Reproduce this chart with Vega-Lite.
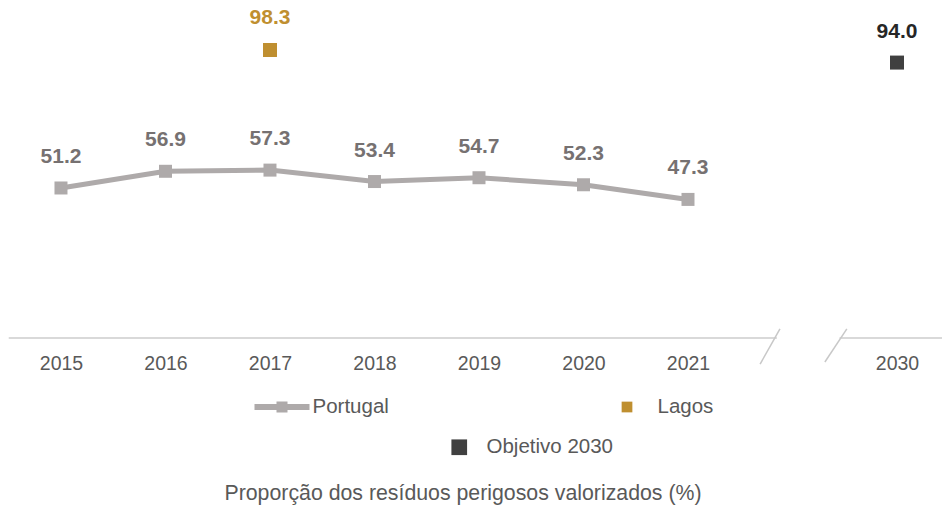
{
  "$schema": "https://vega.github.io/schema/vega-lite/v6.json",
  "autosize": {"type": "none"},
  "width": 933,
  "height": 293,
  "padding": {"left": 9, "top": 45, "right": 0, "bottom": 170},
  "background": "white",
  "config": {
    "view": {"stroke": null},
    "font": "Liberation Sans",
    "text": {"font": "Liberation Sans"}
  },
  "datasets": {
    "main": [
      {"series": "Portugal", "year": "2015", "value": 51.2},
      {"series": "Portugal", "year": "2016", "value": 56.9},
      {"series": "Portugal", "year": "2017", "value": 57.3},
      {"series": "Portugal", "year": "2018", "value": 53.4},
      {"series": "Portugal", "year": "2019", "value": 54.7},
      {"series": "Portugal", "year": "2020", "value": 52.3},
      {"series": "Portugal", "year": "2021", "value": 47.3},
      {"series": "Lagos", "year": "2017", "value": 98.3},
      {"series": "Objetivo 2030", "year": "2030", "value": 94.0}
    ],
    "deco": [
      {"kind": "axis", "p": -0.5, "p2": 6.85, "v": 0, "v2": 0},
      {"kind": "axis", "p": 7.45, "p2": 8.45, "v": 0, "v2": 0},
      {"kind": "slash", "p": 6.69, "p2": 6.88, "v": -8.9, "v2": 3.1},
      {"kind": "slash", "p": 7.31, "p2": 7.52, "v": -8.2, "v2": 3.1}
    ]
  },
  "resolve": {"scale": {"x": "independent"}, "axis": {"x": "independent"}},
  "layer": [
    {
      "data": {"name": "deco"},
      "layer": [
        {
          "transform": [{"filter": "datum.kind == 'axis'"}],
          "mark": {"type": "rule", "color": "#d9d9d9", "strokeWidth": 2},
          "encoding": {
            "x": {"field": "p", "type": "quantitative", "scale": {"domain": [-0.4976, 8.4306], "nice": false, "zero": false}, "axis": null},
            "x2": {"field": "p2"},
            "y": {"field": "v", "type": "quantitative", "scale": {"domain": [0, 100], "nice": false}, "axis": null},
            "y2": {"field": "v2"}
          }
        },
        {
          "transform": [{"filter": "datum.kind == 'slash'"}],
          "mark": {"type": "rule", "color": "#c8c8c8", "strokeWidth": 1.5},
          "encoding": {
            "x": {"field": "p", "type": "quantitative", "scale": {"domain": [-0.4976, 8.4306], "nice": false, "zero": false}, "axis": null},
            "x2": {"field": "p2"},
            "y": {"field": "v", "type": "quantitative", "scale": {"domain": [0, 100], "nice": false}, "axis": null},
            "y2": {"field": "v2"}
          }
        }
      ]
    },
    {
      "data": {"name": "main"},
      "encoding": {
        "x": {
          "field": "year",
          "type": "ordinal",
          "scale": {"type": "point", "domain": ["2015", "2016", "2017", "2018", "2019", "2020", "2021", "gap", "2030"], "padding": 0.464, "align": 0.536},
          "axis": {
            "domain": false,
            "ticks": false,
            "grid": false,
            "labelAngle": 0,
            "labelExpr": "datum.value == 'gap' ? '' : datum.value",
            "labelFont": "Liberation Sans",
            "labelFontSize": 19.5,
            "labelColor": "#595959",
            "labelBaseline": "middle",
            "labelPadding": 25,
            "title": "Proporção dos resíduos perigosos valorizados (%)",
            "titleFont": "Liberation Sans",
            "titleFontSize": 21.3,
            "titleFontWeight": "normal",
            "titleColor": "#595959",
            "titleBaseline": "middle",
            "titleAlign": "center",
            "titleX": 453.5,
            "titleY": 155
          }
        },
        "y": {"field": "value", "type": "quantitative", "scale": {"domain": [0, 100], "nice": false}, "axis": null}
      },
      "layer": [
        {
          "transform": [{"filter": "datum.series == 'Portugal'"}],
          "mark": {"type": "line", "color": "#aeaaaa", "strokeWidth": 5}
        },
        {
          "transform": [{"filter": "datum.series == 'Portugal'"}],
          "mark": {"type": "point", "shape": "square", "filled": true, "color": "#aeaaaa", "size": 169, "opacity": 1}
        },
        {
          "transform": [{"filter": "datum.series == 'Portugal'"}],
          "mark": {"type": "text", "color": "#767171", "fontWeight": "bold", "fontSize": 21, "dy": -31, "baseline": "middle"},
          "encoding": {"text": {"field": "value", "type": "quantitative", "format": ".1f"}}
        },
        {
          "transform": [{"filter": "datum.series == 'Lagos'"}],
          "mark": {"type": "point", "shape": "square", "filled": true, "color": "#bf8f30", "size": 196, "opacity": 1}
        },
        {
          "transform": [{"filter": "datum.series == 'Lagos'"}],
          "mark": {"type": "text", "color": "#bf8f30", "fontWeight": "bold", "fontSize": 21, "dy": -32, "baseline": "middle"},
          "encoding": {"text": {"field": "value", "type": "quantitative", "format": ".1f"}}
        },
        {
          "transform": [{"filter": "datum.series == 'Objetivo 2030'"}],
          "mark": {"type": "point", "shape": "square", "filled": true, "color": "#404040", "size": 196, "opacity": 1}
        },
        {
          "transform": [{"filter": "datum.series == 'Objetivo 2030'"}],
          "mark": {"type": "text", "color": "#262626", "fontWeight": "bold", "fontSize": 21, "dy": -31, "baseline": "middle"},
          "encoding": {"text": {"field": "value", "type": "quantitative", "format": ".1f"}}
        },
        {
          "transform": [{"filter": "false"}],
          "mark": {"type": "point", "filled": true, "opacity": 1},
          "encoding": {
            "color": {
              "field": "series", "type": "nominal",
              "scale": {"domain": ["Portugal", "Lagos"], "range": ["#aeaaaa", "#bf8f30"]},
              "legend": {
                "orient": "none", "legendX": 245.5, "legendY": 334.5, "direction": "horizontal",
                "title": null, "padding": 0, "symbolSize": 3025, "symbolStrokeWidth": 0,
                "labelOffset": 3, "columnPadding": 210, "labelFont": "Liberation Sans",
                "labelFontSize": 20.5, "labelColor": "#595959", "symbolOpacity": 1
              }
            },
            "shape": {
              "field": "series", "type": "nominal",
              "scale": {"domain": ["Portugal", "Lagos"], "range": ["M-1,-0.11L1,-0.11L1,0.11L-1,0.11Z M-0.2,-0.2L0.2,-0.2L0.2,0.2L-0.2,0.2Z", "M-0.195,-0.195L0.195,-0.195L0.195,0.195L-0.195,0.195Z"]},
              "legend": {
                "orient": "none", "legendX": 245.5, "legendY": 334.5, "direction": "horizontal",
                "title": null, "padding": 0, "symbolSize": 3025, "symbolStrokeWidth": 0,
                "labelOffset": 3, "columnPadding": 210, "labelFont": "Liberation Sans",
                "labelFontSize": 20.5, "labelColor": "#595959", "symbolOpacity": 1
              }
            }
          }
        },
        {
          "transform": [{"filter": "false"}],
          "mark": {"type": "point", "filled": true, "opacity": 1},
          "encoding": {
            "fill": {
              "field": "series", "type": "nominal",
              "scale": {"domain": ["Objetivo 2030"], "range": ["#404040"]},
              "legend": {
                "orient": "none", "legendX": 440, "legendY": 392, "direction": "horizontal",
                "title": null, "padding": 0, "symbolType": "square", "symbolSize": 246, "symbolStrokeWidth": 0,
                "labelOffset": 17, "labelFont": "Liberation Sans",
                "labelFontSize": 20.5, "labelColor": "#595959", "symbolOpacity": 1
              }
            }
          }
        }
      ]
    }
  ]
}
